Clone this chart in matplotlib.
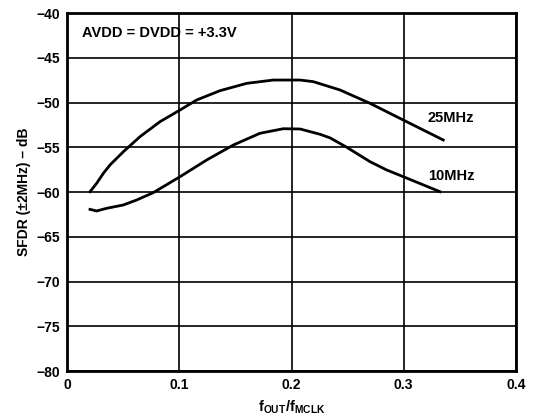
import matplotlib
matplotlib.use('Agg')
import matplotlib.pyplot as plt

plt.rcParams['font.family'] = ['Liberation Sans', 'DejaVu Sans']
plt.rcParams['font.weight'] = 'bold'
plt.rcParams['mathtext.fontset'] = 'custom'
plt.rcParams['mathtext.rm'] = 'Liberation Sans:bold'
plt.rcParams['mathtext.it'] = 'Liberation Sans:bold'
plt.rcParams['mathtext.bf'] = 'Liberation Sans:bold'

# 25MHz curve
f_25 = [0.0205, 0.0264, 0.0324, 0.0383, 0.0502, 0.0650, 0.0829, 0.1007, 0.1155,
        0.1363, 0.1601, 0.1838, 0.2076, 0.2194, 0.2432, 0.2699, 0.2996, 0.3352]
sfdr_25 = [-59.97, -59.03, -57.91, -56.98, -55.50, -53.82, -52.14, -50.84, -49.72,
           -48.68, -47.86, -47.49, -47.49, -47.67, -48.60, -50.09, -51.96, -54.19]

# 10MHz curve
f_10 = [0.0205, 0.0264, 0.0354, 0.0502, 0.0621, 0.0769, 0.1007, 0.1245, 0.1482,
        0.1719, 0.1927, 0.2076, 0.2254, 0.2343, 0.2492, 0.2699, 0.2848, 0.2996,
        0.3323]
sfdr_10 = [-61.94, -62.12, -61.82, -61.45, -60.89, -60.07, -58.29, -56.42, -54.75,
           -53.44, -52.93, -52.96, -53.55, -53.95, -55.0, -56.61, -57.54, -58.29,
           -59.97]

x_ticks = [0, 0.1, 0.2, 0.3, 0.4]
x_tick_labels = ['0', '0.1', '0.2', '0.3', '0.4']
y_ticks = [-80, -75, -70, -65, -60, -55, -50, -45, -40]
y_tick_labels = ['\u221280', '\u221275', '\u221270', '\u221265', '\u221260',
                 '\u221255', '\u221250', '\u221245', '\u221240']

fig = plt.figure(figsize=(5.34, 4.18), dpi=100)
ax = fig.add_axes([67 / 534, 1 - 371 / 418, 449 / 534, 358 / 418])

ax.plot(f_25, sfdr_25, color='black', lw=2.0, solid_joinstyle='round')
ax.plot(f_10, sfdr_10, color='black', lw=2.0, solid_joinstyle='round')

ax.set_xlim(0, 0.4)
ax.set_ylim(-80, -40)
ax.set_xticks(x_ticks)
ax.set_xticklabels(x_tick_labels)
ax.set_yticks(y_ticks)
ax.set_yticklabels(y_tick_labels)
ax.tick_params(length=0, labelsize=10, pad=5)
ax.grid(True, color='black', lw=1.2)
ax.set_axisbelow(True)
for s in ax.spines.values():
    s.set_linewidth(2.0)

ax.text(0.0135, -42.2, 'AVDD = DVDD = +3.3V', fontsize=10.5, fontweight='bold',
        va='center', ha='left')
ax.text(0.3215, -51.7, '25MHz', fontsize=10.5, fontweight='bold', va='center', ha='left')
ax.text(0.3215, -58.2, '10MHz', fontsize=10.5, fontweight='bold', va='center', ha='left')

ax.set_xlabel(r'$\mathrm{f_{OUT}/f_{MCLK}}$', fontsize=10.5, labelpad=5)
ax.set_ylabel('SFDR (\u00b12MHz) \u2013 dB', fontsize=10, fontweight='bold', labelpad=4)

fig.savefig('out.png', dpi=100)
